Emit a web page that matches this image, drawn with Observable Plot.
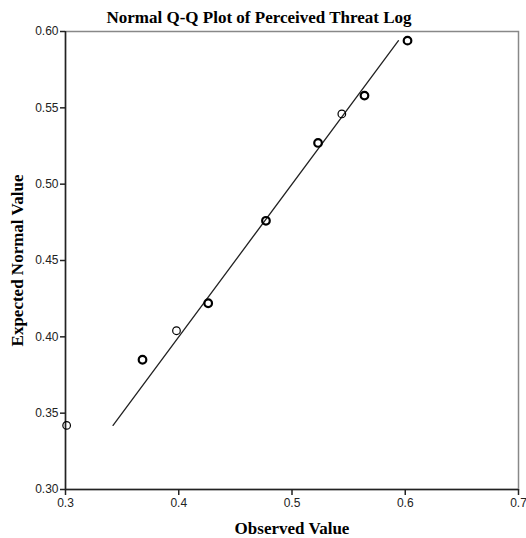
<!DOCTYPE html>
<html><head><meta charset="utf-8">
<script src="https://cdn.jsdelivr.net/npm/d3@7"></script>
<script src="https://cdn.jsdelivr.net/npm/@observablehq/plot@0.6"></script>
<style>body{margin:0;background:#fff;}</style>
</head><body><div id="chart"></div>
<script>
const observed = [0.301, 0.368, 0.398, 0.426, 0.477, 0.523, 0.544, 0.564, 0.602];
const expected = [0.342, 0.385, 0.404, 0.422, 0.476, 0.527, 0.546, 0.558, 0.594];
const cases = [1, 2, 1, 2, 2, 2, 1, 2, 2];
const refLine = [0.342, 0.594];
const xTicks = [0.3, 0.4, 0.5, 0.6, 0.7];
const yTicks = [0.30, 0.35, 0.40, 0.45, 0.50, 0.55, 0.60];
const title = "Normal Q-Q Plot of Perceived Threat Log";
const xLabel = "Observed Value";
const yLabel = "Expected Normal Value";

const points = observed.map((x, i) => ({x, y: expected[i], n: cases[i]}));
const line = refLine.map(v => ({x: v, y: v}));
const serif = "'Liberation Serif', 'DejaVu Serif', serif";
const sans = "'Liberation Sans', Arial, sans-serif";

const chart = Plot.plot({
  width: 526,
  height: 538,
  marginLeft: 65,
  marginRight: 8,
  marginTop: 31,
  marginBottom: 49,
  style: {fontFamily: sans, fontSize: "12px", color: "#222", background: "#fff"},
  x: {domain: [0.3, 0.7]},
  y: {domain: [0.3, 0.6]},
  marks: [
    Plot.frame({stroke: "#888", strokeWidth: 1.5}),
    Plot.ruleX([0.3], {stroke: "#222", strokeWidth: 1.5}),
    Plot.ruleY([0.3], {stroke: "#222", strokeWidth: 1.5}),
    Plot.axisX({ticks: xTicks, tickFormat: d3.format(".1f"), tickSize: 6, tickPadding: 3, label: null, stroke: "#222", strokeWidth: 1.5, fontSize: 12}),
    Plot.axisY({ticks: yTicks, tickFormat: d3.format(".2f"), tickSize: 5, tickPadding: 2, label: null, stroke: "#222", strokeWidth: 1.5, fontSize: 12}),
    Plot.line(line, {x: "x", y: "y", stroke: "#222", strokeWidth: 1.3}),
    Plot.dot(points, {x: "x", y: "y", r: 3.8, stroke: "#000", fill: "none", strokeWidth: d => d.n > 1 ? 2.2 : 1.2}),
    Plot.text([title], {frameAnchor: "top", textAnchor: "middle", lineAnchor: "middle", dx: -33, dy: -14, fontFamily: serif, fontWeight: "bold", fontSize: 17, fill: "#000"}),
    Plot.text([xLabel], {frameAnchor: "bottom", textAnchor: "middle", lineAnchor: "middle", dy: 39, fontFamily: serif, fontWeight: "bold", fontSize: 17, fill: "#000"}),
    Plot.text([yLabel], {frameAnchor: "left", textAnchor: "middle", lineAnchor: "middle", dx: -48, rotate: -90, fontFamily: serif, fontWeight: "bold", fontSize: 17, fill: "#000"})
  ]
});
document.getElementById("chart").appendChild(chart);
</script>
</body></html>
